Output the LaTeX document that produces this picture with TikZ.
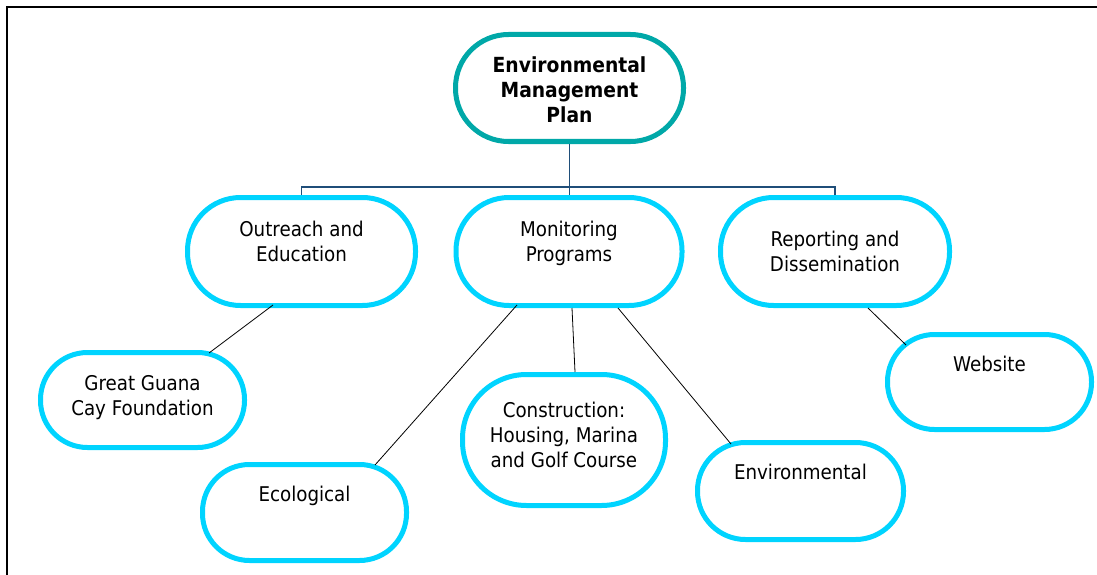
\documentclass[tikz,border=0pt]{standalone}
\usepackage{fontspec}
\setmainfont{DejaVu Sans Condensed}
\usetikzlibrary{calc}
\definecolor{cyanb}{RGB}{0,212,255}
\definecolor{tealb}{RGB}{0,168,168}
\definecolor{navyb}{RGB}{31,78,121}
\begin{document}
\begin{tikzpicture}[x=1pt,y=-1pt,
  box/.style={draw=cyanb,line width=5pt,rounded corners=53pt,inner sep=0pt,fill=white},
  topbox/.style={box,draw=tealb},
  txt/.style={font=\fontsize{20.3}{25}\selectfont,align=center,inner sep=0pt,anchor=base},
  ttxt/.style={txt,font=\fontsize{20.8}{25}\selectfont\bfseries},
  link/.style={black,line width=0.8pt},
  trunk/.style={navyb,line width=1.6pt}]
\useasboundingbox (0,0) rectangle (1097,575);
% frame
\draw[line width=2pt] (7,576) -- (7,7) -- (1098,7);
% boxes
\node[topbox,minimum width=228pt,minimum height=107pt] (emp) at (569.5,88) {};
\node[box,minimum width=228pt,minimum height=108pt] (out) at (301.5,251.5) {};
\node[box,minimum width=226pt,minimum height=108pt] (mon) at (569,251.5) {};
\node[box,minimum width=229pt,minimum height=108pt] (rep) at (835,251.5) {};
\node[box,minimum width=204pt,minimum height=95pt,rounded corners=47pt] (web) at (989.5,382) {};
\node[box,minimum width=204pt,minimum height=95pt,rounded corners=47pt] (ggc) at (142.5,400) {};
\node[box,minimum width=204pt,minimum height=96pt,rounded corners=47pt] (eco) at (304.5,512.5) {};
\node[box,minimum width=203pt,minimum height=131pt,rounded corners=64pt] (con) at (564,440) {};
\node[box,minimum width=206pt,minimum height=97pt,rounded corners=48pt] (env) at (800.5,491) {};
% texts (anchor is baseline of last line)
\node[ttxt] (empt) at (569.5,123) {Environmental\\Management\\Plan};
\node[txt] (outt) at (301.5,261) {Outreach and\\Education};
\node[txt] (mont) at (569,261) {Monitoring\\Programs};
\node[txt] (rept) at (835,271) {Reporting and\\Dissemination};
\node[txt] (webt) at (989.5,371) {Website};
\node[txt] (ggct) at (142.5,415) {Great Guana\\Cay Foundation};
\node[txt] (ecot) at (304.5,501) {Ecological};
\node[txt] (cont) at (564,467) {Construction:\\Housing, Marina\\and Golf Course};
\node[txt] (envt) at (800.5,479) {Environmental};
% trunk
\coordinate (bus) at (569.5,187);
\draw[trunk] (emp.south) -- (bus);
\draw[trunk] (bus) -- (mon.north -| bus);
\draw[trunk] (out.north) |- (bus);
\draw[trunk] (rep.north) |- (bus);
% links
\draw[link] ($(out.south)+(-28.5,-3)$) -- ($(ggc.north)+(66.5,3)$);
\draw[link] ($(mon.south)+(-52,-3)$) -- ($(eco.north)+(70.5,3)$);
\draw[link] ($(mon.south)+(3,0)$) -- ($(con.north)+(11,0)$);
\draw[link] ($(mon.south)+(49,0)$) -- ($(env.north)+(-69.5,4)$);
\draw[link] ($(rep.south)+(33,0)$) -- ($(web.north)+(-83.5,13)$);
\end{tikzpicture}
\end{document}
